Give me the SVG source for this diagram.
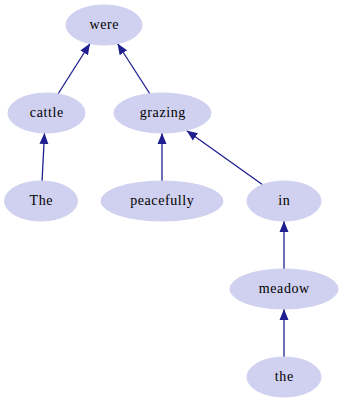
<svg xmlns="http://www.w3.org/2000/svg" width="343" height="403" viewBox="0 0 343 403">
  <style>
    .node ellipse { fill: #d0d0f0; stroke: #d0d0f0; stroke-width: 1; }
    .node text { font-family: 'Liberation Serif', 'Times New Roman', serif; font-size: 14px; letter-spacing: 0.6px; fill: #000000; text-anchor: middle; }
    .edge { stroke: #1f1f8f; stroke-width: 1.3; fill: none; marker-end: url(#arrow); }
  </style>
  <defs>
    <marker id="arrow" viewBox="0 -5 11 10" refX="11" refY="0" markerWidth="11" markerHeight="10" markerUnits="userSpaceOnUse" orient="auto">
      <path d="M0,-4.5 L11,0 L0,4.5 Z" fill="#1f1f8f"/>
    </marker>
  </defs>

  <g id="edges">
    <line class="edge" x1="58" y1="94" x2="90" y2="43.5"/>
    <line class="edge" x1="150" y1="94" x2="117.5" y2="43.5"/>
    <line class="edge" x1="42" y1="182" x2="44.5" y2="133"/>
    <line class="edge" x1="162" y1="182" x2="162" y2="133"/>
    <line class="edge" x1="263" y1="185" x2="186.5" y2="130.5"/>
    <line class="edge" x1="284" y1="269" x2="284" y2="221"/>
    <line class="edge" x1="284" y1="357" x2="284" y2="309"/>
  </g>

  <g id="were" class="node"><ellipse cx="104" cy="25" rx="38" ry="20"/><text x="104.3" y="29">were</text></g>
  <g id="cattle" class="node"><ellipse cx="46.5" cy="113" rx="38.5" ry="20"/><text x="46.8" y="117">cattle</text></g>
  <g id="grazing" class="node"><ellipse cx="162.5" cy="113" rx="48.5" ry="20"/><text x="162.8" y="117">grazing</text></g>
  <g id="The" class="node"><ellipse cx="41" cy="201" rx="36.5" ry="20"/><text x="41.3" y="205">The</text></g>
  <g id="peacefully" class="node"><ellipse cx="162" cy="201" rx="61" ry="20"/><text x="162.3" y="205">peacefully</text></g>
  <g id="in" class="node"><ellipse cx="284" cy="201" rx="37" ry="20"/><text x="284.3" y="205">in</text></g>
  <g id="meadow" class="node"><ellipse cx="284" cy="289" rx="54" ry="20"/><text x="284.3" y="293">meadow</text></g>
  <g id="the" class="node"><ellipse cx="284" cy="377" rx="37" ry="20"/><text x="284.3" y="381">the</text></g>
</svg>
